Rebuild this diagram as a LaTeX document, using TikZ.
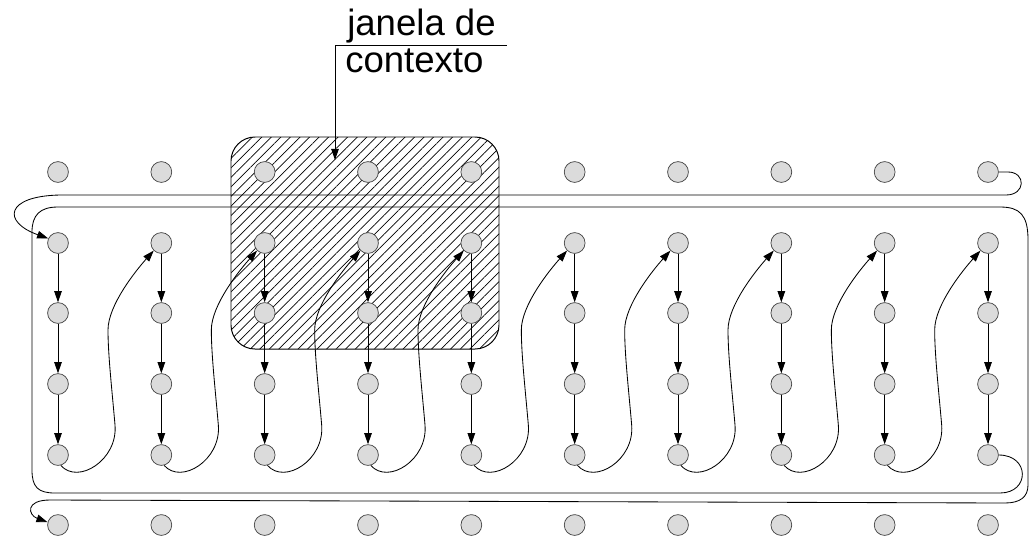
\documentclass[tikz,border=0pt]{standalone}
\usepackage{fontspec}
\setmainfont{Liberation Sans}
\usetikzlibrary{arrows.meta,patterns.meta,calc}
\begin{document}
\begin{tikzpicture}[x=0.025cm,y=-0.025cm,
  dot/.style={circle,draw=black!75,fill=black!14,line width=0.5pt,minimum size=0.52cm,inner sep=0pt},
  link/.style={line width=0.6pt,-{Triangle[length=2.8mm,width=1.9mm]}},
  wire/.style={line width=0.6pt},
  win/.style={draw,line width=0.7pt,rounded corners=0.6cm,pattern={Lines[angle=45,distance=4.8pt,line width=0.5pt]}},
  lbl/.style={font=\fontsize{26}{30}\selectfont,inner sep=0pt,anchor=base west}]
\useasboundingbox (0,0) rectangle (1032,542);
% context window
\path[win] (231,137) rectangle (499,349);
% nodes
\foreach \i in {1,...,10}{
  \pgfmathsetmacro{\xx}{58+(\i-1)*103.333}
  \foreach \r/\yy in {0/172,1/243,2/313,3/384,4/455,5/525}{
    \node[dot] (n\i-\r) at (\xx,\yy) {};
  }
}
% vertical arrows
\foreach \i in {1,...,10}{
  \foreach \r/\s in {1/2,2/3,3/4}{
    \draw[link] (n\i-\r) -- (n\i-\s);
  }
}
% S-curves between columns
\foreach \i [count=\j from 2] in {1,...,9}{
  \draw[link] (n\i-4.-75) .. controls ($(n\i-4)+(20,30)$) and ($(n\i-4)+(60,5)$) ..
    ($(n\i-4)+(57,-30)$) .. controls ($(n\i-4)+(54,-65)$) and ($(n\i-4)+(50,-100)$) ..
    ($(n\i-4)+(50,-125)$) .. controls ($(n\i-4)+(50,-150)$) and ($(n\j-1)+(-25,27)$) ..
    (n\j-1.-135);
}
% top wrap
\draw[link] (n10-0.east) -- (1008,172) .. controls (1026,172) and (1026,195) .. (1006,195)
  -- (60,195) .. controls (5,196) and (2,222) .. (n1-1.155);
% big loop
\draw[link] (n10-4.east) .. controls (1030,455) and (1030,493) .. (1000,493)
  -- (55,493) .. controls (38,493) and (32,487) .. (32,470)
  -- (32,232) .. controls (32,215) and (40,207) .. (58,207)
  -- (1000,207) .. controls (1020,207) and (1028,215) .. (1028,240)
  -- (1028,485) .. controls (1028,497) and (1020,503) .. (1005,503)
  -- (50,500) .. controls (25,500) and (28,515) .. (n1-5.165);
% label
\node[lbl] (l1) at (347,35) {janela de};
\node[lbl] (l2) at (345,72) {contexto};
\coordinate (k) at (335,45);
\coordinate (kr) at (507,45);
\coordinate (tip) at (335,160);
\draw[wire] (k) -- (kr);
\draw[link] (k) -- (tip);
\end{tikzpicture}
\end{document}
